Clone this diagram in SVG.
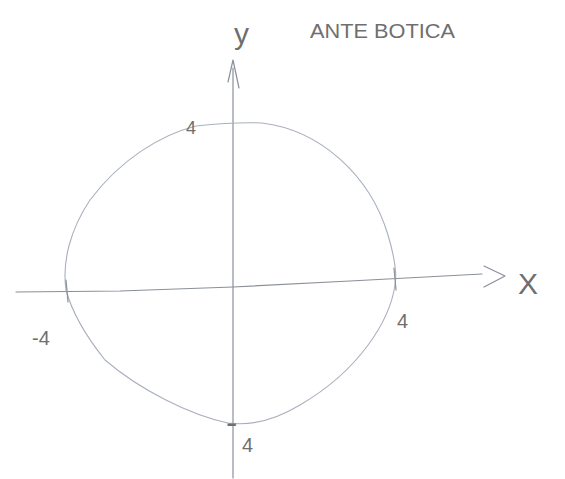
<svg xmlns="http://www.w3.org/2000/svg" width="565" height="479" viewBox="0 0 565 479">
<style>
.ln{fill:none;stroke:#8a8f9a;stroke-width:1.2;stroke-linecap:round;stroke-linejoin:round}
.cv{fill:none;stroke:#a9b0bd;stroke-width:1.1}
.tx{font-family:"Liberation Sans",Arial,sans-serif;fill:#6f6f6f}
</style>
<rect width="565" height="479" fill="#ffffff"/>
<g id="connectors">
<path class="ln" d="M16,292 L120,291 L233,287 L350,281 L482,274"/>
<path class="ln" d="M233,478 L233,68"/>
<path class="ln" d="M228,82 L233,60 L239,88"/>
<path class="ln" d="M484,266 L505,276 L484,287"/>
</g>
<g id="curve">
<path class="cv" d="M196,126 C215,124 240,122 262,123 C320,130 370,175 388,235 C396,262 397,275 395,285 C390,320 360,370 300,405 C275,420 250,426 228,423 C190,415 140,390 105,360 C85,335 72,312 66,290 C62,262 70,230 90,200 C120,160 160,135 196,126 Z"/>
</g>
<g id="ticks">
<path class="ln" d="M66,280 L68,302"/>
<path class="ln" d="M394,268 L396,290"/>
</g>
<g id="labels">
<text class="tx" x="234" y="44" font-size="30">y</text>
<text class="tx" x="518" y="294" font-size="30">X</text>
<text class="tx" x="310" y="38" font-size="20" textLength="145" lengthAdjust="spacingAndGlyphs">ANTE BOTICA</text>
<text class="tx" x="397" y="328" font-size="20">4</text>
<text class="tx" x="32" y="345" font-size="20">-4</text>
<text class="tx" x="186" y="134" font-size="18">4</text>
<text class="tx" x="226" y="434" font-size="34">-<tspan x="242" dy="18" font-size="20">4</tspan></text>
</g>
</svg>
